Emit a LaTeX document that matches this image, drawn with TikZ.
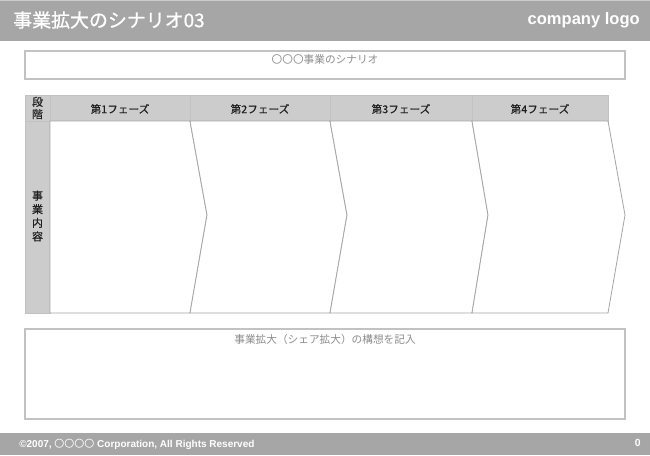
\documentclass[tikz,border=0pt]{standalone}
\usepackage{fontspec}
\setmainfont{Liberation Sans}
\newfontfamily\cjk{Noto Sans CJK JP}
\newfontfamily\cjkmed[FakeBold=0.9]{Noto Sans CJK JP}
\newfontfamily\cjksemi[FakeBold=0.35]{Noto Sans CJK JP}
\definecolor{barG}{HTML}{A6A6A6}
\definecolor{hdrG}{HTML}{CCCCCC}
\definecolor{lineG}{HTML}{C2C2C2}
\definecolor{txtG}{HTML}{8C8C8C}
\definecolor{txtD}{HTML}{1E1E1E}
\tikzset{
  frame/.style={draw=lineG, line width=0.8pt},
  hdrcell/.style={draw=lineG, fill=hdrG, line width=0.6pt},
  chev/.style={draw=lineG!85!black, fill=white, line width=0.6pt, line join=miter},
  phasetxt/.style={font=\cjksemi\fontsize{8}{9}\selectfont, text=txtD, inner sep=0pt},
  notetxt/.style={font=\cjk\fontsize{8}{9}\selectfont, text=txtG, inner sep=0pt},
  sidetxt/.style={font=\cjksemi\fontsize{8.2}{9.2}\selectfont, text=txtD, inner sep=0pt, align=center},
}
\begin{document}
\begin{tikzpicture}[x=0.75pt,y=-0.75pt]
\useasboundingbox (0,0) rectangle (650,455);
\fill[white] (0,0) rectangle (650,455);
% header bar
\fill[barG] (0,0) rectangle (650,41);
\draw[color=lightgray!80, line width=0.6pt] (0,0.5) -- (650,0.5);
\node[anchor=west, text=white, inner sep=0pt, font=\cjkmed\fontsize{14.2}{16}\selectfont] (title) at (13,20) {事業拡大のシナリオ03};
\node[anchor=east, text=white, inner sep=0pt, font=\bfseries\fontsize{12.4}{14}\selectfont] (logo) at (640,20) {company logo};
% top box
\draw[frame] (25,51) rectangle (625,79);
\node[notetxt] (topnote) at (325,59) {〇〇〇事業のシナリオ};
% table header
\draw[hdrcell] (25,95) rectangle (50,121);
\draw[hdrcell] (50,95) rectangle (190,121);
\draw[hdrcell] (190,95) rectangle (330,121);
\draw[hdrcell] (330,95) rectangle (472,121);
\draw[hdrcell] (472,95) rectangle (608,121);
\node[sidetxt] (stage) at (37.5,108) {段\\[0pt]階};
\node[phasetxt] (p1) at (120,109) {第1フェーズ};
\node[phasetxt] (p2) at (260,109) {第2フェーズ};
\node[phasetxt] (p3) at (401,109) {第3フェーズ};
\node[phasetxt] (p4) at (540,109) {第4フェーズ};
% side column
\draw[hdrcell] (25,121) rectangle (50,313);
\node[sidetxt] (content) at (37.5,216) {事\\[1pt]業\\[1pt]内\\[1pt]容};
% chevrons
\draw[chev] (50,121) -- (190,121) -- (207,215) -- (190,313) -- (50,313) -- cycle;
\draw[chev] (190,121) -- (330,121) -- (347,215) -- (330,313) -- (190,313) -- (207,215) -- cycle;
\draw[chev] (330,121) -- (472,121) -- (488,215) -- (472,313) -- (330,313) -- (347,215) -- cycle;
\draw[chev] (472,121) -- (608,121) -- (625,215) -- (608,313) -- (472,313) -- (488,215) -- cycle;
% bottom box
\draw[frame] (25,329) rectangle (625,419);
\node[notetxt] (botnote) at (325,339) {事業拡大（シェア拡大）の構想を記入};
% footer
\fill[barG] (0,433) rectangle (650,455);
\node[anchor=west, text=white, inner sep=0pt, font=\bfseries\fontsize{7.5}{9}\selectfont] (copy) at (19,444) {©2007, {\cjk\mdseries 〇〇〇〇} Corporation, All Rights Reserved};
\node[anchor=east, text=white, inner sep=0pt, font=\bfseries\fontsize{7.8}{9}\selectfont] (pnum) at (641,443) {0};
\end{tikzpicture}
\end{document}
